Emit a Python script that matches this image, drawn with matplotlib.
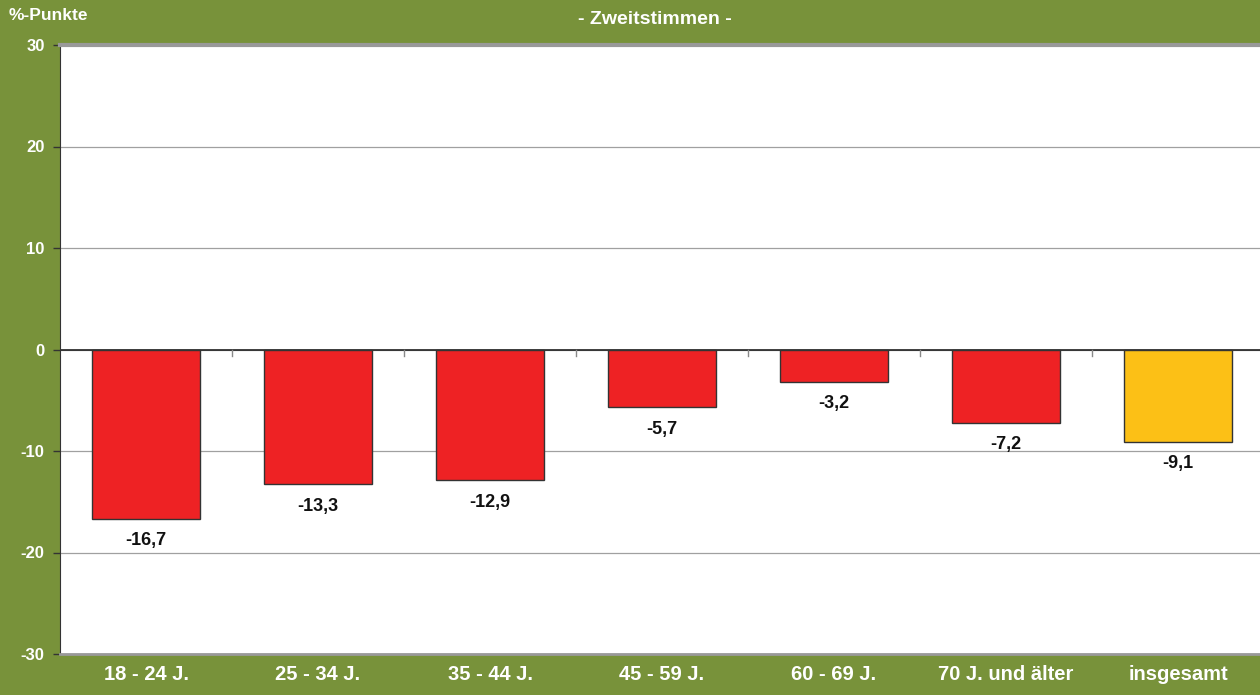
import matplotlib.pyplot as plt

plt.rcParams['font.family'] = ['Liberation Sans', 'DejaVu Sans']
plt.rcParams['font.weight'] = 'bold'
plt.rcParams['axes.unicode_minus'] = False

#--- Data
categories = ["18 - 24 J.", "25 - 34 J.", "35 - 44 J.", "45 - 59 J.", "60 - 69 J.", "70 J. und älter", "insgesamt"]
values = [-16.7, -13.3, -12.9, -5.7, -3.2, -7.2, -9.1]
labels = ["-16,7", "-13,3", "-12,9", "-5,7", "-3,2", "-7,2", "-9,1"]
bar_colors = ["#EE2224"] * 6 + ["#FCC016"]

green = "#78923A"

fig = plt.figure(figsize=(12.6, 6.95), dpi=100, facecolor=green)
ax = fig.add_axes([60 / 1260, 1 - 654 / 695, 1204 / 1260, 609 / 695])
ax.set_facecolor("white")

x = list(range(len(categories)))
ax.bar(x, values, width=0.63, color=bar_colors, edgecolor="#333333", linewidth=1.0, zorder=3)

#--- Labels under bars
for xi, v, lab in zip(x, values, labels):
    ax.text(xi, v - 1.3, lab, ha="center", va="top", fontsize=13, fontweight="bold", color="#111111", zorder=4)

ax.set_xlim(-0.5, len(categories) - 0.5)
ax.set_ylim(-30, 30)
ax.set_yticks(range(-30, 31, 10))
ax.grid(axis="y", color="#A0A0A0", linewidth=0.9, zorder=1)
ax.axhline(0, color="#222222", linewidth=1.2, zorder=2)

# x ticks at category boundaries on the zero line
for b in range(1, len(categories)):
    ax.plot([b - 0.5, b - 0.5], [0, -0.6], color="#888888", linewidth=1.0, zorder=2)

ax.set_xticks(x)
ax.set_xticklabels(categories)
ax.tick_params(axis="x", length=0, colors="white", labelsize=14.5, pad=8)
ax.tick_params(axis="y", colors="white", labelsize=12, length=5, width=1, pad=6)
for t in ax.get_yticklabels() + ax.get_xticklabels():
    t.set_fontweight("bold")
    t.set_color("white")
ax.tick_params(axis="y", color="#333333")

ax.spines["right"].set_visible(False)
ax.spines["left"].set_color("#333333")
ax.spines["top"].set_color("#999999")
ax.spines["top"].set_linewidth(3)
ax.spines["bottom"].set_color("#999999")
ax.spines["bottom"].set_linewidth(2)

#--- Header texts
fig.text(655 / 1260, 1 - 20 / 695, "- Zweitstimmen -", ha="center", va="center",
         fontsize=14, fontweight="bold", color="white")
fig.text(9 / 1260, 1 - 16 / 695, "%-Punkte", ha="left", va="center",
         fontsize=12.5, fontweight="bold", color="white")

fig.savefig("out.png", dpi=100, facecolor=green)
